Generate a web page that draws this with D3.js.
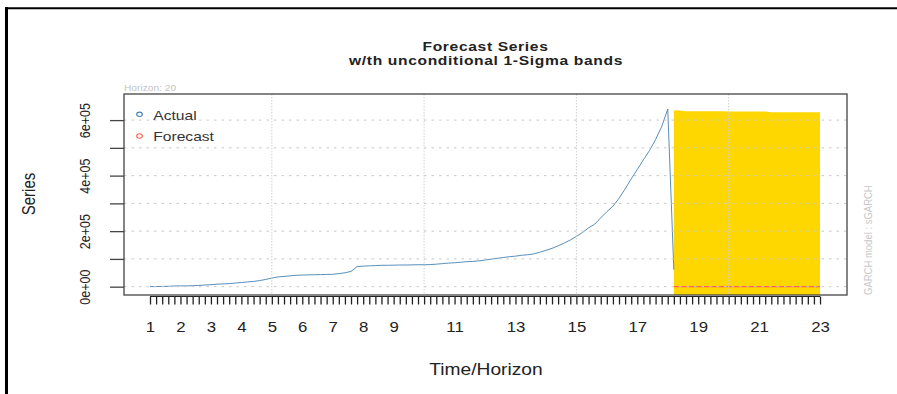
<!DOCTYPE html>
<html>
<head>
<meta charset="utf-8">
<script src="https://cdn.jsdelivr.net/npm/d3@7"></script>
<style>
  html, body { margin: 0; padding: 0; background: #fff; }
  svg { display: block; }
  text { font-family: "Liberation Sans", Arial, Helvetica, sans-serif; }
</style>
</head>
<body>
<svg id="chart" width="897" height="394"></svg>
<script>
// Observed series (one value per observation, observation index starts at 1)
const actualValues = [
  300, 500, 800, 1200, 2500, 2800, 3000, 3300, 4500, 6000,
  7000, 9000, 10000, 11000, 13000, 15000, 17000, 19000, 22000, 26000,
  31000, 35000, 37000, 39000, 41000, 42000, 42500, 43000, 43500, 44000,
  44500, 47000, 50000, 55000, 72000, 74000, 75000, 76000, 77000, 77000,
  77500, 78000, 78000, 78500, 79000, 79000, 79500, 81000, 83000, 85000,
  86000, 88000, 90000, 91000, 93000, 96000, 99000, 102000, 105000, 108000,
  110000, 113000, 115000, 118000, 124000, 131000, 138000, 147000, 157000, 168000,
  181000, 195000, 212000, 225000, 248000, 270000, 290000, 318000, 352000, 388000,
  422000, 457000, 490000, 530000, 576000, 640000, 61000
];

// Forecast path, starting at observation 87
const forecastStart = 87;
const forecastValues = [
  400, 400, 400, 400, 400, 400, 400, 400, 400, 400,
  400, 400, 400, 400, 400, 400, 400, 400, 400, 400,
  400, 400, 400, 400, 400
];
// Unconditional 1-sigma for each forecast step
const sigmaValues = [
  635000, 634600, 631400, 631300, 631300, 631200, 631200, 631100, 631100, 631000,
  631000, 631000, 630900, 630900, 630800, 630800, 627900, 627900, 627800, 627800,
  627700, 627700, 627600, 627600, 627600
];

// Axis labels
const xTickLabels = [1, 2, 3, 4, 5, 6, 7, 8, 9, 11, 13, 15, 17, 19, 21, 23];
const obsPerLabel = 5;
const xGridLabels = [5, 10, 15, 20];
const yTickValues = [0, 100000, 200000, 300000, 400000, 500000, 600000];
const yTickLabels = ["0e+00", "", "2e+05", "", "4e+05", "", "6e+05"];
const xDomain = [-3.27, 115.43];
const yDomain = [-30000, 694000];
const horizon = 20;
const modelName = "sGARCH";

const SX = 1.2; // horizontal stretch of the type
const svg = d3.select("#chart");

const plot = { left: 124, right: 847, top: 94, bottom: 295 };
const x = d3.scaleLinear().domain(xDomain).range([plot.left, plot.right]);
const y = d3.scaleLinear().domain(yDomain).range([plot.bottom, plot.top]);
const labelToObs = l => (l - 1) * obsPerLabel + 1;

function label(parent, px, py, str, o) {
  const g = parent.append("g").attr("transform", `translate(${px},${py}) scale(${SX},1)`);
  const t = g.append("text")
    .attr("font-size", o.size)
    .attr("font-weight", o.weight || "normal")
    .attr("fill", o.fill || "#222")
    .attr("text-anchor", o.anchor || "start")
    .text(str);
  if (o.spacing) t.attr("letter-spacing", o.spacing);
  if (o.rotate) t.attr("transform", `rotate(${o.rotate})`);
  return t;
}

// Window frame
svg.append("line").attr("x1", 6.5).attr("x2", 6.5).attr("y1", 7).attr("y2", 394)
  .attr("stroke", "#000").attr("stroke-width", 3);
svg.append("line").attr("x1", 5).attr("x2", 897).attr("y1", 8.3).attr("y2", 8.3)
  .attr("stroke", "#000").attr("stroke-width", 2);

svg.append("clipPath").attr("id", "plotClip").append("rect")
  .attr("x", plot.left).attr("y", plot.top)
  .attr("width", plot.right - plot.left).attr("height", plot.bottom - plot.top);

const inner = svg.append("g").attr("clip-path", "url(#plotClip)");

// Forecast rows
const fc = forecastValues.map((v, k) => ({ i: forecastStart + k, f: v, s: sigmaValues[k] }));

// 1-sigma band
inner.append("path")
  .datum(fc)
  .attr("fill", "#FFD700")
  .attr("d", d3.area().x(d => x(d.i)).y0(d => y(d.f - d.s)).y1(d => y(d.f + d.s)));

// Forecast line
inner.append("path")
  .datum(fc)
  .attr("fill", "none").attr("stroke", "tomato").attr("stroke-width", 1.2)
  .attr("d", d3.line().x(d => x(d.i)).y(d => y(d.f)));

// Actual series
inner.append("path")
  .datum(actualValues.map((v, k) => ({ i: k + 1, v })))
  .attr("fill", "none").attr("stroke", "steelblue").attr("stroke-width", 1)
  .attr("stroke-opacity", 0.9)
  .attr("d", d3.line().x(d => x(d.i)).y(d => y(d.v)));

// Grid
inner.selectAll(".hgrid").data(yTickValues).join("line")
  .attr("x1", plot.left).attr("x2", plot.right)
  .attr("y1", d => y(d)).attr("y2", d => y(d))
  .attr("stroke", "#c8c8c8").attr("stroke-width", 1).attr("stroke-dasharray", "2.5,5");
inner.selectAll(".vgrid").data(xGridLabels).join("line")
  .attr("x1", d => x(labelToObs(d))).attr("x2", d => x(labelToObs(d)))
  .attr("y1", plot.top).attr("y2", plot.bottom)
  .attr("stroke", "#d0d0d0").attr("stroke-width", 1).attr("stroke-dasharray", "1.5,1.5");

// Plot box
svg.append("rect")
  .attr("x", plot.left).attr("y", plot.top)
  .attr("width", plot.right - plot.left).attr("height", plot.bottom - plot.top)
  .attr("fill", "none").attr("stroke", "#444").attr("stroke-width", 1.3);

// X axis: one tick per observation
const nObs = forecastStart + forecastValues.length - 1;
const labelMap = new Map(xTickLabels.map(l => [labelToObs(l), String(l)]));
const xAxis = svg.append("g").attr("transform", `translate(0,${plot.bottom + 1.5})`)
  .call(d3.axisBottom(x)
    .tickValues(d3.range(1, nObs + 1))
    .tickSize(8).tickSizeOuter(0)
    .tickFormat(d => labelMap.get(d) || ""));
xAxis.select(".domain").remove();
xAxis.append("line").attr("x1", x(1)).attr("x2", x(nObs)).attr("y1", 0).attr("y2", 0)
  .attr("stroke", "#222").attr("stroke-width", 1);
xAxis.selectAll(".tick line").attr("stroke", "#222").attr("stroke-width", 1.3);
xAxis.selectAll(".tick text")
  .attr("y", 0).attr("dy", null)
  .attr("transform", `translate(0,35.5) scale(${SX},1)`)
  .attr("font-size", 14).attr("fill", "#222")
  .attr("font-family", "Liberation Sans, Arial, sans-serif");

// Y axis
const yAxis = svg.append("g").attr("transform", `translate(${plot.left},0)`)
  .call(d3.axisLeft(y).tickValues(yTickValues).tickSize(14).tickSizeOuter(0)
    .tickFormat((d, k) => yTickLabels[k]));
yAxis.select(".domain").remove();
yAxis.selectAll(".tick line").attr("stroke", "#444").attr("stroke-width", 1.3);
yAxis.selectAll(".tick text")
  .attr("x", 0).attr("dy", null)
  .attr("text-anchor", "middle")
  .attr("transform", `translate(-34,0) scale(${SX},1) rotate(-90)`)
  .attr("font-size", 12.5).attr("fill", "#222")
  .attr("font-family", "Liberation Sans, Arial, sans-serif");

// Titles
label(svg, 485.5, 50.5, "Forecast Series", { size: 13, weight: "bold", anchor: "middle", spacing: 0.55 });
label(svg, 486, 64.5, "w/th unconditional 1-Sigma bands", { size: 13, weight: "bold", anchor: "middle", spacing: 0.55 });
label(svg, 486, 375, "Time/Horizon", { size: 16, anchor: "middle" });
label(svg, 35, 194, "Series", { size: 15, anchor: "middle", rotate: -90 });
label(svg, 124, 90.5, `Horizon: ${horizon}`, { size: 8.5, fill: "#c4c4c4" });
label(svg, 871.5, 295, `GARCH model : ${modelName}`, { size: 9.5, fill: "#c8c8c8", rotate: -90 });

// Legend
const legendItems = [
  { name: "Actual", color: "steelblue", cy: 114.3, base: 119.5 },
  { name: "Forecast", color: "tomato", cy: 136, base: 141 }
];
legendItems.forEach(it => {
  svg.append("ellipse").attr("cx", 139.5).attr("cy", it.cy).attr("rx", 2.8).attr("ry", 2.2)
    .attr("fill", "none").attr("stroke", it.color).attr("stroke-width", 1.1);
  label(svg, 153.3, it.base, it.name, { size: 13, fill: "#333" });
});
</script>
</body>
</html>
